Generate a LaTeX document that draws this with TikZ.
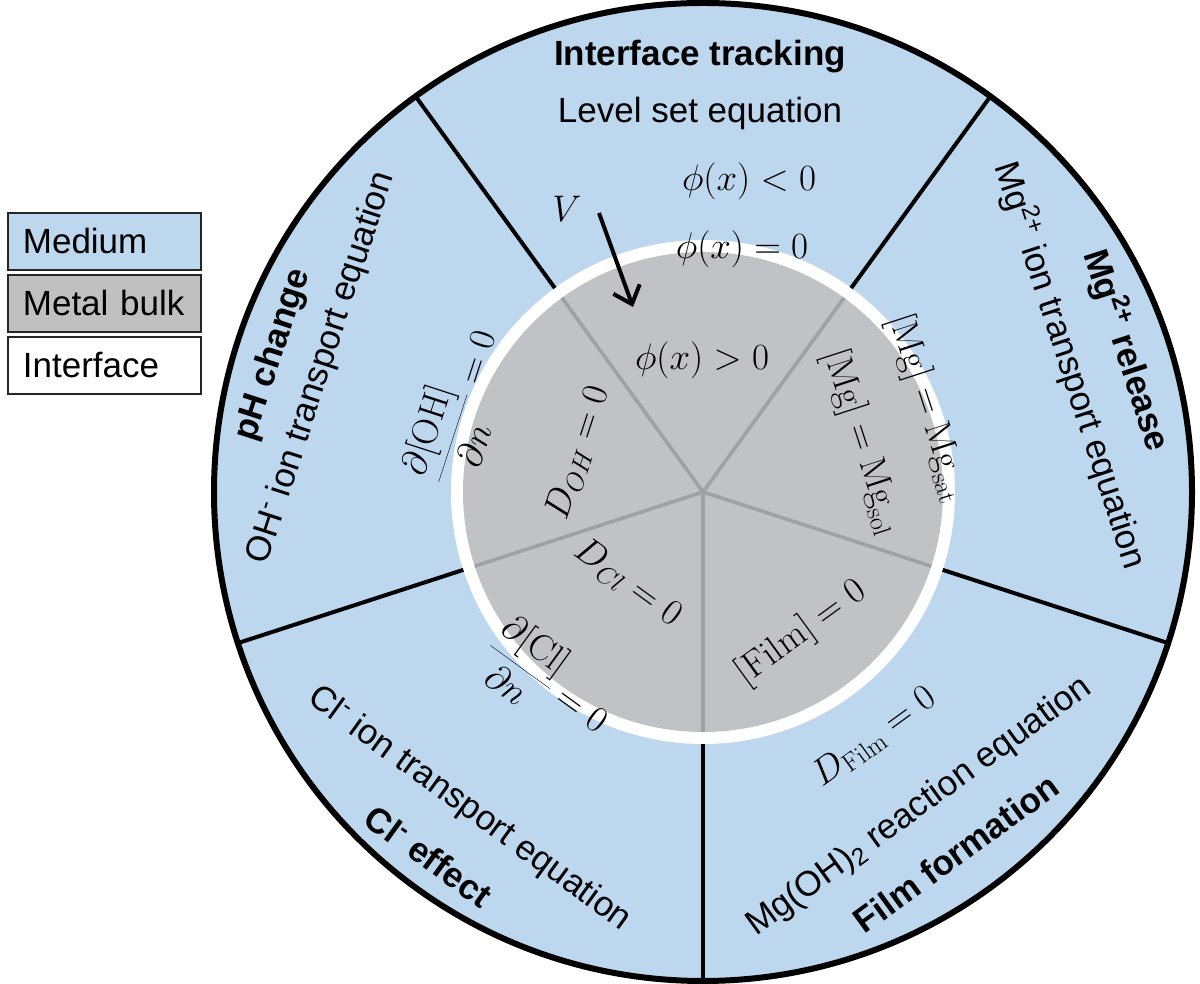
\RequirePackage{fix-cm}
\documentclass[tikz,border=0pt]{standalone}
\usepackage[no-math]{fontspec}
\setmainfont{Liberation Sans}
\usetikzlibrary{arrows.meta}
\definecolor{medium}{RGB}{189,215,238}
\definecolor{bulk}{RGB}{192,194,197}
\definecolor{legbulk}{RGB}{192,192,192}
\definecolor{spokegray}{RGB}{160,161,163}
\begin{document}
\begin{tikzpicture}[x=1pt,y=1pt,
  txt/.style={font=\fontsize{35}{40}\selectfont, inner sep=0pt},
  ttl/.style={font=\fontsize{35}{40}\selectfont\bfseries, inner sep=0pt},
  mth/.style={font=\fontsize{37}{42}\selectfont, inner sep=0pt},
  legbox/.style={draw=black!85, line width=1.8pt, anchor=north west,
    minimum height=57pt, text width=163pt, inner xsep=15pt, align=left,
    font=\fontsize{35}{40}\selectfont},
  bspoke/.style={black, line width=4pt},
  gspoke/.style={spokegray, line width=3.6pt}]
\useasboundingbox (0,0) rectangle (1200,984);
% legend
\node[legbox, fill=medium] (legmed) at (7,772) {Medium};
\node[legbox, fill=legbulk] (legbulk) at (7,710) {Metal bulk};
\node[legbox, fill=white] (legint) at (7,648) {Interface};
% wheel
\begin{scope}[shift={(703,492)}]
  \fill[medium] (0,0) circle (489pt);
  \fill[white] (0,0) circle (252pt);
  \fill[bulk] (0,0) circle (240pt);
  \foreach \a in {54,126,198,270,342} {
    \draw[gspoke] (0,0) -- (\a:240pt);
    \draw[bspoke] (\a:252pt) -- (\a:489pt);
  }
  \draw[line width=6pt] (0,0) circle (489pt);
  % pH change sector
  \node[ttl, rotate=72] (phT) at (162.3:451pt) {pH change};
  \node[txt, rotate=72] (phS) at (162:401pt) {OH\textsuperscript{-} ion transport equation};
  \node[mth, rotate=72] (phB) at (160.7:259pt) {$\displaystyle\frac{\partial[\mathrm{OH}]}{\partial n}=0$};
  \node[mth, rotate=72] (phI) at (162.7:131pt) {$D_{OH}=0$};
  % Mg release sector
  \node[ttl, rotate=-72] (mgT) at (18.5:447pt) {Mg\textsuperscript{2+} release};
  \node[txt, rotate=-72] (mgS) at (19:389pt) {Mg\textsuperscript{2+} ion transport equation};
  \node[mth, rotate=-72] (mgB) at (20.6:240pt) {$[\mathrm{Mg}]=\mathrm{Mg}_{\mathrm{sat}}$};
  \node[mth, rotate=-72] (mgI) at (17.5:167pt) {$[\mathrm{Mg}]=\mathrm{Mg}_{\mathrm{sol}}$};
  % Film formation sector
  \node[ttl, rotate=36] (fiT) at (-55:441pt) {Film formation};
  \node[txt, rotate=36] (fiS) at (-55.5:382pt) {Mg(OH)\textsubscript{2} reaction equation};
  \node[mth, rotate=36] (fiB) at (-55:299pt) {$D_{\mathrm{Film}}=0$};
  \node[mth, rotate=36] (fiI) at (-55:172pt) {$[\mathrm{Film}]=0$};
  % Cl effect sector
  \node[ttl, rotate=-36] (clT) at (233:456pt) {Cl\textsuperscript{-} effect};
  \node[txt, rotate=-36] (clS) at (233.6:394pt) {Cl\textsuperscript{-} ion transport equation};
  \node[mth, rotate=-36] (clB) at (231:245pt) {$\displaystyle\frac{\partial[\mathrm{Cl}]}{\partial n}=0$};
  \node[mth, rotate=-36] (clI) at (230.5:118pt) {$D_{Cl}=0$};
\end{scope}
% interface tracking sector
\node[ttl] (itT) at (700,927) {Interface tracking};
\node[txt] (itS) at (700,871) {Level set equation};
\node[mth] (itA) at (749,803) {$\phi(x)<0$};
\node[mth] (itB) at (742,735) {$\phi(x)=0$};
\node[mth] (itC) at (702,624) {$\phi(x)>0$};
\node[mth] (vlab) at (567,775) {$V$};
\coordinate (vs) at (599,771);
\coordinate (ve) at (633,677);
\draw[line width=4pt, -{Straight Barb[length=16pt,width=28pt]}] (vs) -- (ve);
\end{tikzpicture}
\end{document}
